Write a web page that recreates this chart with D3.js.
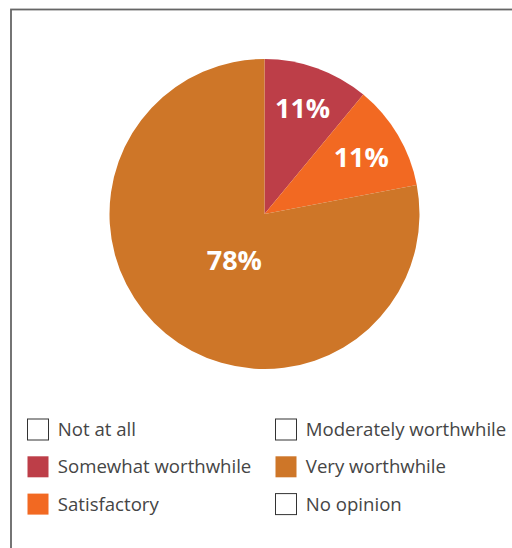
<html>
<head>
    <style>
        body { margin: 0; background: #fff; }
        text { font-family: "Open Sans", sans-serif; }
    </style>
</head>
<body>
    <svg id="container" width="512" height="548"></svg>
</body>
<script src="https://cdn.jsdelivr.net/npm/d3@7"></script>
<script>
    // legend order (column by column) and slice values in percent
    let categories = ["Not at all", "Somewhat worthwhile", "Satisfactory",
                      "Moderately worthwhile", "Very worthwhile", "No opinion"]
    let values = [0, 11, 11, 0, 78, 0]
    let colors = ["none", "#bd3e48", "#f26922", "none", "#ce7628", "none"]

    let data = categories.map((c, i) => ({ label: c, value: values[i], color: colors[i] }))

    let svg = d3.select("#container")

    // frame, runs off the right and bottom edge
    svg.append("rect")
        .attr("x", 11)
        .attr("y", 9.5)
        .attr("width", 600)
        .attr("height", 600)
        .attr("fill", "none")
        .attr("stroke", "#666")
        .attr("stroke-width", 1.8)

    let cx = 264.5, cy = 214, radius = 155

    let body = svg.append("g").attr("transform", `translate(${cx},${cy})`)

    let pie = d3.pie()
        .sort(null)
        .value(d => d.value)

    let arc = d3.arc()
        .innerRadius(0)
        .outerRadius(radius)

    let slices = pie(data).filter(d => d.value > 0)

    body.selectAll("path")
        .data(slices)
        .enter()
        .append("path")
        .attr("d", arc)
        .attr("fill", d => d.data.color)

    body.selectAll(".lbl")
        .data(slices)
        .enter()
        .append("text")
        .attr("class", "lbl")
        .attr("transform", d => {
            let r = d.value > 50 ? radius * 0.355 : radius * 0.725
            let a = (d.startAngle + d.endAngle) / 2
            if (d.value > 50) a -= 0.11
            return `translate(${r * Math.sin(a)},${-r * Math.cos(a)})`
        })
        .attr("text-anchor", "middle")
        .attr("dy", "0.36em")
        .attr("fill", "#fff")
        .attr("font-weight", 700)
        .attr("font-size", 27)
        .text(d => d.value + "%")

    // legend, 3 rows x 2 columns
    let legend = svg.append("g")
    let item = legend.selectAll("g")
        .data(data)
        .enter()
        .append("g")
        .attr("transform", (d, i) => `translate(${i < 3 ? 27.5 : 275.5},${419 + (i % 3) * 37.3})`)

    item.append("rect")
        .attr("width", 21)
        .attr("height", 21)
        .attr("fill", d => d.color === "none" ? "#fff" : d.color)
        .attr("stroke", d => d.color === "none" ? "#333" : "none")
        .attr("stroke-width", 1)

    item.append("text")
        .attr("x", 30.3)
        .attr("y", 17)
        .attr("fill", "#454545")
        .attr("font-size", 18.6)
        .text(d => d.label)
</script>
</html>
